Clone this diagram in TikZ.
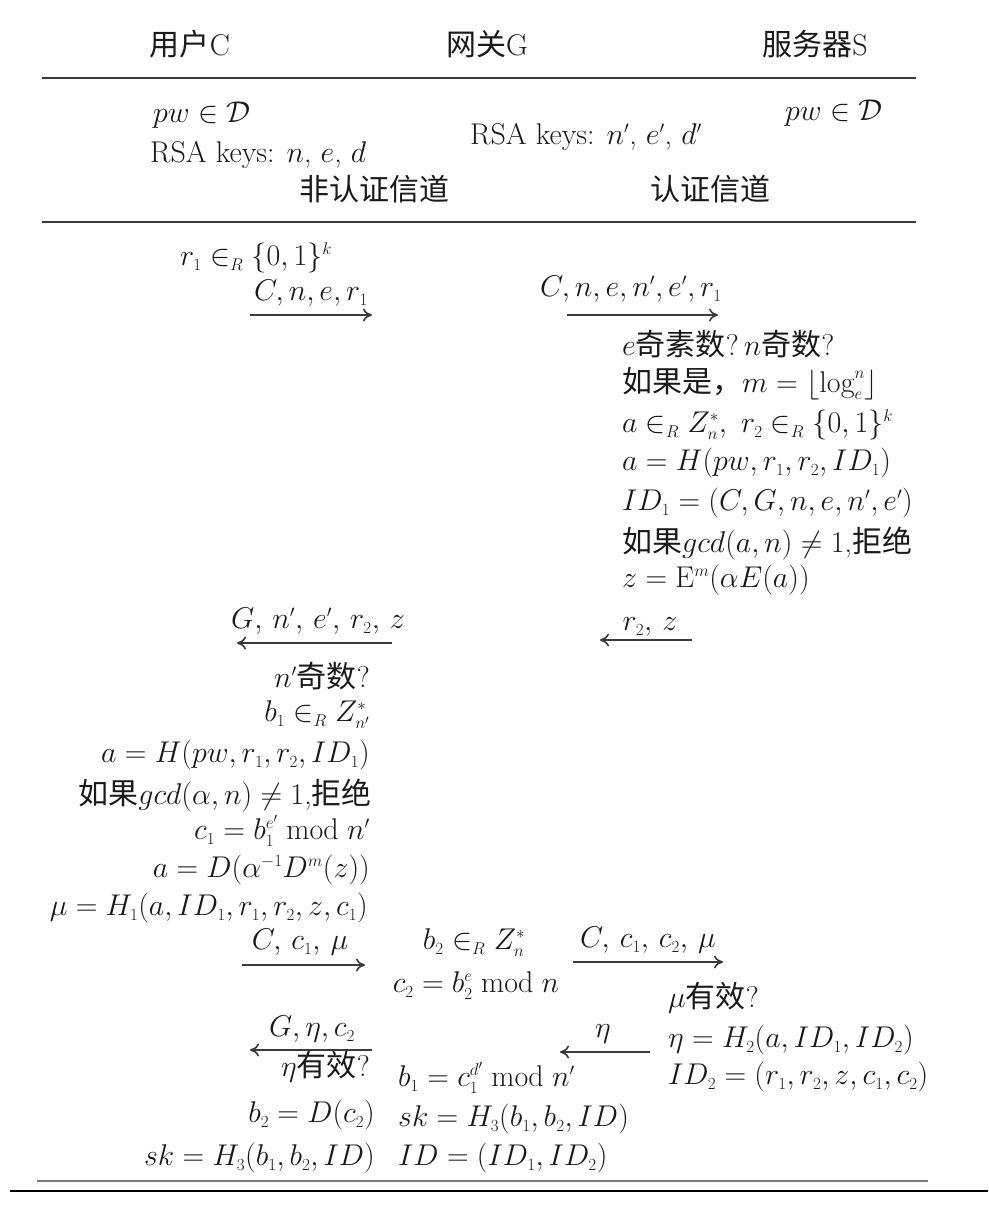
\RequirePackage{fix-cm}
\documentclass[tikz,border=0pt]{standalone}
\usepackage{amsmath,amssymb}
\usepackage{fontspec}
\newfontfamily\cjk{Noto Sans CJK SC}
\usetikzlibrary{arrows.meta}
\DeclareMathSizes{30}{30}{17}{13}
\newcommand{\zh}[1]{{\cjk #1}}
\definecolor{txt}{HTML}{1A1A1A}
\definecolor{ln}{HTML}{3A3A3A}
\definecolor{lnlight}{HTML}{7A7A7A}
\begin{document}
\begin{tikzpicture}[x=1pt,y=-1pt,
  every node/.style={inner sep=0pt, text=txt, font=\fontsize{30}{34}\selectfont,
    text height=21pt, text depth=6pt},
  hdr/.style={font=\fontsize{30}{34}\selectfont},
  msg/.style={draw=ln, line width=1.6pt, -{To[length=9pt,width=13pt]}},
  rulel/.style={draw=ln, line width=1.6pt},
  lw/.style={anchor=west},
  le/.style={anchor=east}]
\useasboundingbox (0,0) rectangle (988,1223);
\fill[white] (0,0) rectangle (988,1223);

% header
\node[hdr] (hC) at (190,48) {\zh{用户}C};
\node[hdr] (hG) at (487,48) {\zh{网关}G};
\node[hdr] (hS) at (815,48) {\zh{服务器}S};
\coordinate (t1a) at (42,78); \coordinate (t1b) at (916,78);
\draw[rulel] (t1a) -- (t1b);

\node[lw] (pwC) at (153,115) {$pw\in\mathcal{D}$};
\node[lw] (rsaC) at (150,155) {RSA keys: $n$, $e$, $d$};
\node[lw] (rsaG) at (470,137) {RSA keys: $n'$, $e'$, $d'$};
\node[lw] (pwS) at (785,113) {$pw\in\mathcal{D}$};
\node (ch1) at (374,193) {\zh{非认证信道}};
\node (ch2) at (710,193) {\zh{认证信道}};
\coordinate (t2a) at (42,222); \coordinate (t2b) at (916,222);
\draw[rulel] (t2a) -- (t2b);

% step 1
\node[lw] (r1) at (180,258) {$r_1\in_R\{0,1\}^k$};
\coordinate (m1s) at (250,315); \coordinate (m1e) at (372,315);
\draw[msg] (m1s) -- (m1e);
\node (m1l) at (311,293) {$C,n,e,r_1$};
\coordinate (m2s) at (567,315); \coordinate (m2e) at (718,315);
\draw[msg] (m2s) -- (m2e);
\node (m2l) at (631,289) {$C,n,e,n',e',r_1$};

% gateway block
\node[lw] (g1) at (622,348) {$e$\zh{奇素数}?\,$n$\zh{奇数}?};
\node[lw] (g2) at (622,385) {\zh{如果是，}$m=\lfloor\log_e^n\rfloor$};
\node[lw] (g3) at (622,425) {$a\in_R Z_n^*,\ r_2\in_R\{0,1\}^k$};
\node[lw] (g4) at (622,463) {$a=H(pw,r_1,r_2,ID_1)$};
\node[lw] (g5) at (622,503) {$ID_1=(C,G,n,e,n',e')$};
\node[lw] (g6) at (622,545) {\zh{如果}$gcd(a,n)\neq1$,\zh{拒绝}};
\node[lw] (g7) at (622,580) {$z=\mathrm{E}^m(\alpha E(a))$};

% step 2
\coordinate (m3s) at (692,640); \coordinate (m3e) at (600,640);
\draw[msg] (m3s) -- (m3e);
\node (m3l) at (650,623) {$r_2,\,z$};
\coordinate (m4s) at (392,643); \coordinate (m4e) at (237,643);
\draw[msg] (m4s) -- (m4e);
\node (m4l) at (318,621) {$G,\,n',\,e',\,r_2,\,z$};

% client block
\node[le] (c1) at (370,680) {$n'$\zh{奇数}?};
\node[le] (c2) at (370,714) {$b_1\in_R Z_{n'}^*$};
\node[le] (c3) at (370,755) {$a=H(pw,r_1,r_2,ID_1)$};
\node[le] (c4) at (372,797) {\zh{如果}$gcd(\alpha,n)\neq1$,\zh{拒绝}};
\node[le] (c5) at (370,832) {$c_1=b_1^{e'}\bmod n'$};
\node[le] (c6) at (370,870) {$a=D(\alpha^{-1}D^m(z))$};
\node[le] (c7) at (368,908) {$\mu=H_1(a,ID_1,r_1,r_2,z,c_1)$};

% step 3
\coordinate (m5s) at (242,965); \coordinate (m5e) at (365,965);
\draw[msg] (m5s) -- (m5e);
\node (m5l) at (300,942) {$C,\,c_1,\,\mu$};
\node (gb1) at (474,942) {$b_2\in_R Z_n^*$};
\node (gb2) at (476,985) {$c_2=b_2^e\bmod n$};
\coordinate (m6s) at (573,962); \coordinate (m6e) at (723,962);
\draw[msg] (m6s) -- (m6e);
\node (m6l) at (648,940) {$C,\,c_1,\,c_2,\,\mu$};

% server block
\node[lw] (s1) at (668,1000) {$\mu$\zh{有效}?};
\node[lw] (s2) at (668,1040) {$\eta=H_2(a,ID_1,ID_2)$};
\node[lw] (s3) at (668,1077) {$ID_2=(r_1,r_2,z,c_1,c_2)$};

% step 4
\coordinate (m7s) at (650,1052); \coordinate (m7e) at (560,1052);
\draw[msg] (m7s) -- (m7e);
\node (m7l) at (603,1030) {$\eta$};
\coordinate (m8s) at (372,1050); \coordinate (m8e) at (250,1050);
\draw[msg] (m8s) -- (m8e);
\node (m8l) at (312,1029) {$G,\eta,c_2$};

\node[le] (e1) at (370,1069) {$\eta$\zh{有效}?};
\node[le] (e2) at (375,1115) {$b_2=D(c_2)$};
\node[le] (e3) at (375,1158) {$sk=H_3(b_1,b_2,ID)$};
\node[lw] (f1) at (398,1079) {$b_1=c_1^{d'}\bmod n'$};
\node[lw] (f2) at (398,1119) {$sk=H_3(b_1,b_2,ID)$};
\node[lw] (f3) at (398,1158) {$ID=(ID_1,ID_2)$};

\coordinate (b1a) at (37,1181); \coordinate (b1b) at (928,1181);
\draw[draw=lnlight, line width=1.4pt] (b1a) -- (b1b);
\coordinate (b2a) at (10,1191); \coordinate (b2b) at (988,1191);
\draw[draw=black, line width=1.6pt] (b2a) -- (b2b);
\end{tikzpicture}
\end{document}
